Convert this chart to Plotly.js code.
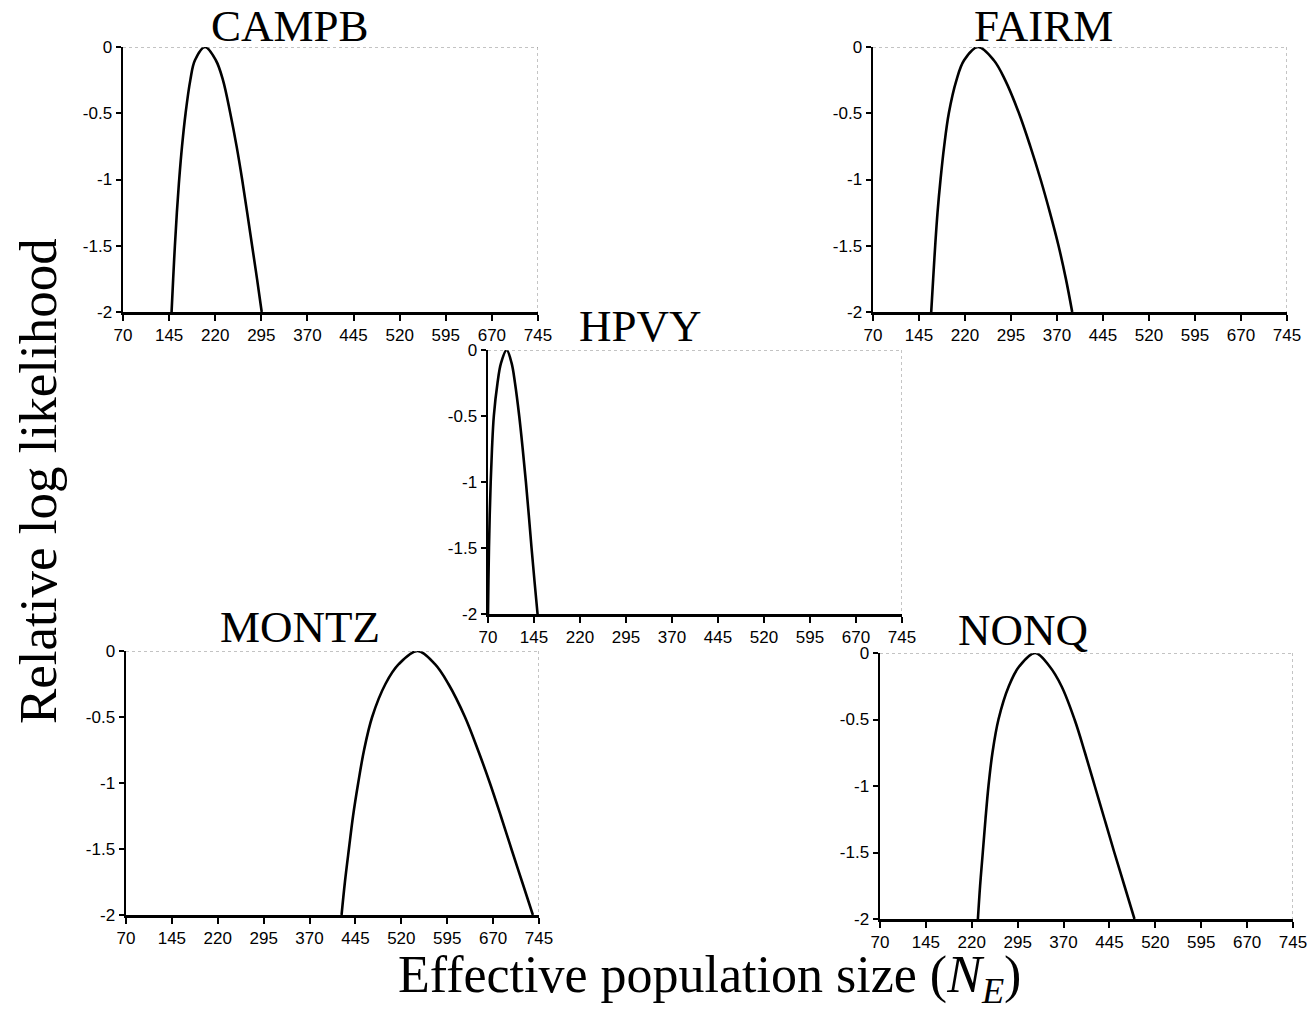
<!DOCTYPE html>
<html>
<head>
<meta charset="utf-8">
<script src="https://cdn.plot.ly/plotly-3.0.1.min.js"></script>
<style>html,body{margin:0;padding:0;background:#fff;}#chart{width:1313px;height:1010px;}</style>
</head>
<body>
<div id="chart"></div>
<script>
// Data
const panelNames = ["CAMPB", "FAIRM", "HPVY", "MONTZ", "NONQ"];

// relative log-likelihood levels (shared by every curve, left branch then right branch)
const levels = [-2, -1.75, -1.5, -1.25, -1, -0.75, -0.5, -0.25, -0.1, 0,
                -0.1, -0.25, -0.5, -0.75, -1, -1.25, -1.5, -1.75, -2];

const campbX = [149, 151.6, 154.4, 157.6, 161.4, 166, 171.8, 179.5, 187, 203.4,
                221, 232.6, 244.5, 254.8, 263.8, 272, 280, 288, 295.6];
const fairmX = [164.9, 168.1, 171.4, 175.2, 180.1, 186, 193.6, 206.1, 218.5, 241.3,
                267, 285.5, 308, 326.5, 343.3, 358.5, 372.5, 384.5, 394.8];
const hpvyX  = [70, 70.7, 71.6, 72.8, 74.4, 76.5, 79.5, 85.5, 91.2, 100.4,
                108.5, 114, 120.9, 126.6, 131.8, 136.5, 141, 145.8, 150.8];
const montzX = [422.3, 427.8, 434.3, 441.1, 449.5, 459.1, 472.3, 494, 515.7, 546.6,
                575, 597, 624, 645.2, 664.7, 682.6, 699.9, 717.5, 735];
const nonqX  = [230, 233.6, 238, 242.4, 247.3, 253.8, 263.6, 280.5, 297.7, 323.7,
                347, 366.7, 388, 405, 421, 437, 453, 469.5, 485.9];

const xTickVals = [70, 145, 220, 295, 370, 445, 520, 595, 670, 745];
const yTickVals = [-2, -1.5, -1, -0.5, 0];
const yTickText = ["-2", "-1.5", "-1", "-0.5", "0"];

const yAxisTitle = "Relative log likelihood";
const xAxisTitle = "Effective population size (<i>N</i><sub><i>E</i></sub>)";

const seriesX = [campbX, fairmX, hpvyX, montzX, nonqX];

// Panel boxes in pixels: [left, right, top, bottom]
const W = 1313, H = 1010;
const boxes = [
  [123, 538, 47, 312],
  [873, 1287, 47, 312],
  [488, 902, 350, 614],
  [126, 539, 651, 915],
  [880, 1293, 653, 919]
];
const titlePos = [[290, 26], [1043, 26], [640, 326], [300, 627], [1023, 630]];

const data = [];
const layout = {
  width: W, height: H,
  margin: {l: 0, r: 0, t: 0, b: 0},
  paper_bgcolor: "#fff", plot_bgcolor: "rgba(0,0,0,0)",
  showlegend: false,
  shapes: [], annotations: []
};

const tickFont = {family: "Liberation Sans, Arial, sans-serif", size: 17, color: "#000"};

for (let i = 0; i < 5; i++) {
  const s = i === 0 ? "" : String(i + 1);
  const b = boxes[i];
  data.push({
    x: seriesX[i], y: levels,
    xaxis: "x" + s, yaxis: "y" + s,
    type: "scatter", mode: "lines",
    line: {color: "#000", width: 2.6, shape: "spline", smoothing: 1},
    hoverinfo: "skip"
  });
  layout["xaxis" + s] = {
    domain: [b[0] / W, b[1] / W],
    anchor: "y" + s,
    range: [70, 745],
    tickvals: xTickVals,
    ticks: "outside", ticklen: 6, tickwidth: 2, tickcolor: "#000",
    showline: true, linecolor: "#000", linewidth: 2.5,
    showgrid: false, zeroline: false,
    tickfont: tickFont, fixedrange: true
  };
  layout["yaxis" + s] = {
    domain: [1 - b[3] / H, 1 - b[2] / H],
    anchor: "x" + s,
    range: [-2, 0],
    tickvals: yTickVals, ticktext: yTickText,
    ticks: "outside", ticklen: 5, tickwidth: 2, tickcolor: "#000",
    showline: true, linecolor: "#000", linewidth: 2.5,
    showgrid: false, zeroline: false,
    tickfont: tickFont, fixedrange: true
  };
  // dotted top and right frame
  layout.shapes.push({
    type: "line", xref: "x" + s, yref: "y" + s,
    x0: 70, y0: 0, x1: 745, y1: 0,
    line: {color: "#888", width: 1, dash: "dot"}
  });
  layout.shapes.push({
    type: "line", xref: "x" + s, yref: "y" + s,
    x0: 745, y0: 0, x1: 745, y1: -2,
    line: {color: "#888", width: 1, dash: "dot"}
  });
  layout.annotations.push({
    text: panelNames[i], xref: "paper", yref: "paper",
    x: titlePos[i][0] / W, y: 1 - titlePos[i][1] / H,
    xanchor: "center", yanchor: "middle", showarrow: false,
    font: {family: "Liberation Serif, Times New Roman, serif", size: 45, color: "#000"}
  });
}

layout.annotations.push({
  text: yAxisTitle, xref: "paper", yref: "paper",
  x: 38 / W, y: 1 - 481 / H, xanchor: "center", yanchor: "middle",
  textangle: -90, showarrow: false,
  font: {family: "Liberation Serif, Times New Roman, serif", size: 53, color: "#000"}
});
layout.annotations.push({
  text: xAxisTitle, xref: "paper", yref: "paper",
  x: 709 / W, y: 1 - 978 / H, xanchor: "center", yanchor: "middle",
  showarrow: false,
  font: {family: "Liberation Serif, Times New Roman, serif", size: 52, color: "#000"}
});

Plotly.newPlot("chart", data, layout, {displayModeBar: false, staticPlot: true});
</script>
</body>
</html>
